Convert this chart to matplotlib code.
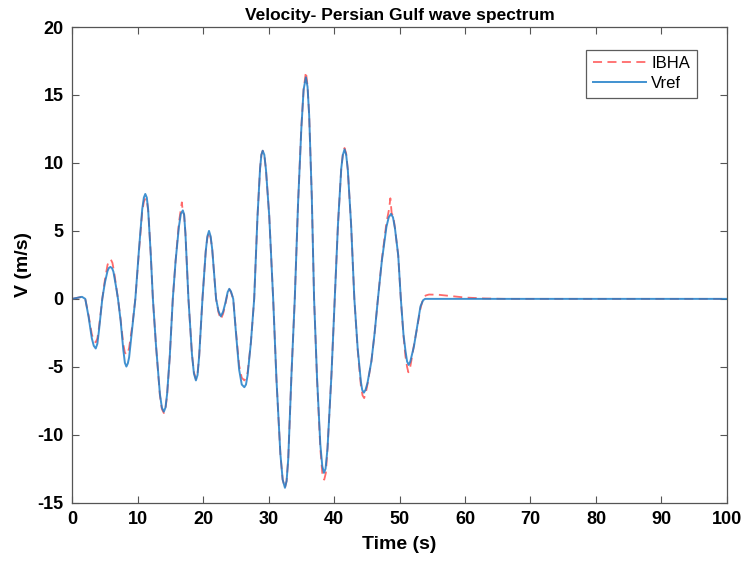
import numpy as np
import matplotlib.pyplot as plt

# Data ------------------------------------------------------------------

t_ref = [0.0, 0.8, 1.5, 2.0, 2.5, 3.0, 3.3, 3.6, 3.85, 4.1, 4.6, 5.0, 5.4,
         5.6, 5.84, 6.1, 6.3, 6.7, 7.0, 7.4, 7.8, 8.05, 8.28, 8.5, 8.7, 9.2,
         9.65, 10.2, 10.7, 10.95, 11.17, 11.4, 11.6, 12.0, 12.33, 12.8, 13.4,
         13.7, 14.0, 14.25, 14.5, 14.9, 15.37, 15.8, 16.3, 16.6, 16.9, 17.1,
         17.3, 17.76, 18.3, 18.6, 18.9, 19.15, 19.4, 19.9, 20.4, 20.65, 20.9,
         21.15, 21.4, 21.98, 22.35, 22.7, 23.05, 23.4, 23.75, 24.0, 24.25,
         24.6, 25.0, 25.5, 25.9, 26.3, 26.55, 26.8, 27.3, 27.8, 28.3, 28.7,
         28.9, 29.1, 29.35, 29.6, 30.1, 30.7, 31.2, 31.8, 32.15, 32.5, 32.75,
         33.0, 33.5, 34.0, 34.5, 35.0, 35.35, 35.7, 35.95, 36.2, 36.6, 36.95,
         37.4, 37.9, 38.2, 38.46, 38.7, 39.0, 39.6, 40.1, 40.6, 41.1, 41.35,
         41.6, 41.85, 42.1, 42.6, 43.1, 43.6, 44.1, 44.3, 44.55, 44.8, 45.1,
         45.7, 46.2, 46.7, 47.3, 48.0, 48.35, 48.7, 49.0, 49.3, 49.8, 50.2,
         50.6, 50.9, 51.15, 51.4, 51.65, 51.9, 52.2, 52.7, 53.2, 53.6, 53.9,
         100.0]

v_ref = [0.0, 0.08, 0.15, 0.0, -1.3, -2.9, -3.45, -3.65, -3.3, -2.3, 0.0,
         1.2, 2.05, 2.27, 2.35, 2.25, 2.0, 0.9, 0.0, -1.6, -3.7, -4.7, -4.98,
         -4.75, -4.3, -2.0, 0.0, 3.6, 6.6, 7.45, 7.72, 7.45, 6.6, 3.3, 0.0,
         -3.4, -7.0, -8.0, -8.3, -8.0, -7.0, -4.3, 0.0, 2.8, 5.3, 6.25, 6.51,
         6.2, 4.8, 0.0, -4.1, -5.5, -6.0, -5.6, -4.2, 0.0, 3.5, 4.6, 5.0,
         4.6, 3.6, 0.0, -0.9, -1.28, -0.95, -0.3, 0.5, 0.74, 0.55, 0.0, -2.4,
         -5.2, -6.3, -6.5, -6.3, -5.6, -3.2, 0.0, 6.0, 9.6, 10.6, 10.9, 10.6,
         9.5, 6.1, 0.0, -5.9, -11.4, -13.3, -13.9, -13.4, -11.8, -5.5, 0.0,
         7.0, 12.5, 15.4, 16.3, 15.6, 13.5, 7.5, 0.0, -5.8, -10.7, -12.3,
         -12.8, -12.5, -11.0, -5.6, 0.0, 5.5, 9.6, 10.6, 11.0, 10.6, 9.5, 5.5,
         0.0, -3.6, -6.1, -6.7, -6.9, -6.7, -6.2, -4.6, -2.5, 0.0, 2.8, 5.3,
         6.0, 6.25, 6.0, 5.2, 3.2, 0.0, -2.6, -3.8, -4.6, -4.86, -4.6, -4.1,
         -3.5, -2.0, -0.55, -0.1, 0.0, 0.0]

t_ibha = [0.0, 0.8, 1.5, 2.0, 2.5, 3.0, 3.3, 3.6, 3.85, 4.1, 4.6, 5.0, 5.4,
          5.65, 5.9, 6.15, 6.4, 6.7, 7.0, 7.4, 7.8, 8.05, 8.3, 8.5, 8.7, 9.2,
          9.65, 10.2, 10.7, 10.95, 11.2, 11.45, 11.65, 12.0, 12.33, 12.8,
          13.4, 13.7, 14.0, 14.25, 14.5, 14.9, 15.37, 15.8, 16.3, 16.6, 16.75,
          16.9, 17.1, 17.3, 17.76, 18.3, 18.6, 18.9, 19.15, 19.4, 19.9, 20.4,
          20.65, 20.9, 21.15, 21.4, 21.98, 22.35, 22.7, 23.05, 23.4, 23.75,
          24.0, 24.25, 24.6, 25.0, 25.5, 25.9, 26.3, 26.55, 26.8, 27.3, 27.8,
          28.3, 28.7, 28.9, 29.1, 29.35, 29.6, 30.1, 30.7, 31.2, 31.8, 32.15,
          32.5, 32.75, 33.0, 33.5, 34.0, 34.5, 35.0, 35.35, 35.7, 35.95, 36.2,
          36.6, 36.95, 37.4, 37.9, 38.2, 38.5, 38.75, 39.0, 39.6, 40.1, 40.6,
          41.1, 41.35, 41.6, 41.85, 42.1, 42.6, 43.1, 43.6, 44.1, 44.35, 44.6,
          44.85, 45.1, 45.7, 46.2, 46.7, 47.3, 48.0, 48.4, 48.6, 48.8, 49.05,
          49.3, 49.8, 50.2, 50.6, 50.9, 51.15, 51.35, 51.6, 51.9, 52.2, 52.7,
          53.2, 53.6, 54.0, 54.5, 56.0, 58.0, 60.0, 63.0, 66.0, 100.0]

v_ibha = [0.0, 0.08, 0.15, 0.0, -1.2, -2.6, -3.05, -3.2, -2.9, -2.1, 0.0,
          1.4, 2.5, 2.8, 2.9, 2.65, 2.0, 1.0, 0.0, -1.5, -3.3, -3.95, -4.1,
          -3.95, -3.6, -1.9, 0.0, 3.5, 6.4, 7.15, 7.4, 7.1, 6.3, 3.3, 0.0,
          -3.4, -7.1, -8.1, -8.4, -8.1, -7.1, -4.3, 0.0, 2.8, 5.6, 6.6, 7.1,
          6.4, 6.2, 4.8, 0.0, -4.1, -5.4, -5.9, -5.5, -4.2, 0.0, 3.5, 4.5,
          4.9, 4.5, 3.6, 0.0, -1.0, -1.5, -1.1, -0.4, 0.45, 0.7, 0.5, 0.0,
          -2.3, -4.9, -5.8, -6.0, -5.8, -5.4, -3.2, 0.0, 6.0, 9.6, 10.6, 10.9,
          10.6, 9.5, 6.1, 0.0, -5.9, -11.4, -13.3, -13.9, -13.4, -11.8, -5.5,
          0.0, 7.0, 12.6, 15.4, 16.7, 15.7, 13.5, 7.5, 0.0, -5.9, -11.0,
          -12.8, -13.3, -12.8, -11.0, -5.6, 0.0, 5.5, 9.6, 10.7, 11.1, 10.7,
          9.5, 5.5, 0.0, -3.7, -6.4, -7.1, -7.3, -6.9, -6.3, -4.6, -2.5, 0.0,
          2.9, 5.6, 6.6, 7.4, 6.3, 6.1, 5.2, 3.2, 0.0, -2.7, -4.2, -5.0,
          -5.4, -5.1, -4.3, -3.4, -2.1, -0.7, 0.0, 0.25, 0.32, 0.3, 0.2, 0.1,
          0.03, 0.0, 0.0]

x_ticks = [0, 10, 20, 30, 40, 50, 60, 70, 80, 90, 100]
y_ticks = [-15, -10, -5, 0, 5, 10, 15, 20]

# Plotting --------------------------------------------------------------

fnt = ["Liberation Sans Narrow", "Liberation Sans", "DejaVu Sans"]

fig = plt.figure(figsize=(7.44, 5.63), dpi=100)
ax = fig.add_axes([0.097, 0.107, 0.880, 0.845])

ax.plot(t_ibha, v_ibha, color="#ff4545", linestyle=(0, (5, 3)),
        linewidth=1.3, alpha=0.8, label="IBHA")
ax.plot(t_ref, v_ref, color="#1f7ec8", linewidth=1.4, alpha=0.85,
        label="Vref")

ax.set_xlim(0, 100)
ax.set_ylim(-15, 20)
ax.set_xticks(x_ticks)
ax.set_yticks(y_ticks)
ax.set_xticklabels([str(v) for v in x_ticks], family=fnt,
                   fontweight="bold", fontsize=13)
ax.set_yticklabels([str(v) for v in y_ticks], family=fnt,
                   fontweight="bold", fontsize=13)
ax.tick_params(direction="in", length=5, width=0.8, color="#555555",
               top=True, right=True, pad=6)
for sp in ax.spines.values():
    sp.set_color("#555555")
    sp.set_linewidth(0.9)

ax.set_title("Velocity- Persian Gulf wave spectrum", family=fnt,
             fontweight="bold", fontsize=12.5, pad=5)
ax.set_xlabel("Time (s)", family=fnt, fontweight="bold", fontsize=14,
              labelpad=6)
ax.set_ylabel("V (m/s)", family=fnt, fontweight="bold", fontsize=14,
              labelpad=4)

leg = ax.legend(loc="upper right", bbox_to_anchor=(0.967, 0.97),
                prop={"family": fnt, "size": 12}, fancybox=False,
                handlelength=3.2, borderpad=0.4, labelspacing=0.3,
                handletextpad=0.3)
leg.get_frame().set_edgecolor("#333333")
leg.get_frame().set_linewidth(0.9)

fig.savefig("out.png", dpi=100)
